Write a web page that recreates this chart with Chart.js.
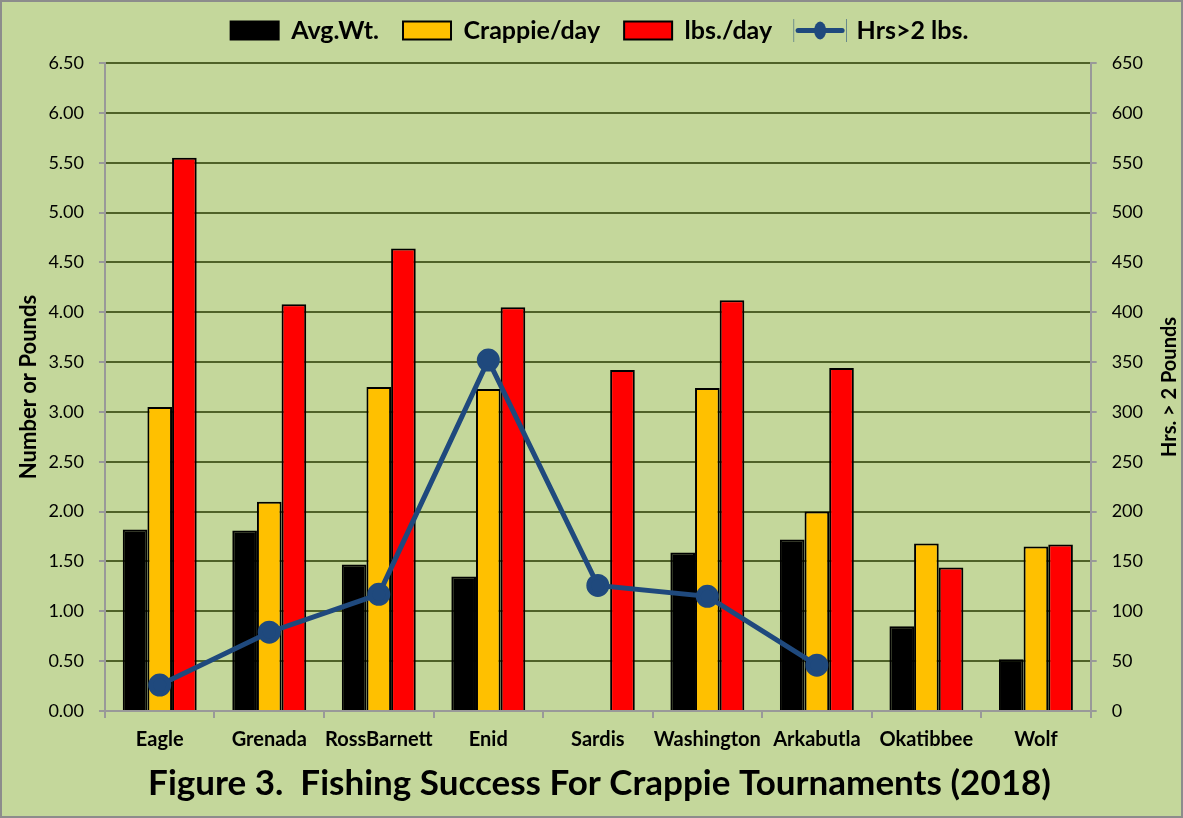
<!DOCTYPE html>
<html><head><meta charset="utf-8">
<script src="https://cdn.jsdelivr.net/npm/chart.js@4/dist/chart.umd.min.js"></script>
<style>html,body{margin:0;padding:0;background:#c4d79b;}#wrap{width:1183px;height:818px;position:relative;}</style>
</head><body><div id="wrap"><canvas id="c" width="1183" height="818"></canvas></div>
<script>
const categories = ["Eagle","Grenada","RossBarnett","Enid","Sardis","Washington","Arkabutla","Okatibbee","Wolf"];
const avgWt = [1.82,1.81,1.47,1.35,null,1.59,1.72,0.85,0.52];
const crappiePerDay = [3.05,2.10,3.25,3.23,null,3.24,2.00,1.68,1.65];
const lbsPerDay = [5.55,4.08,4.64,4.05,3.42,4.12,3.44,1.44,1.67];
const hrsOver2 = [26,79,117,352,126,115,46,null,null];
const leftTicks = [0,0.5,1,1.5,2,2.5,3,3.5,4,4.5,5,5.5,6,6.5];
const rightTicks = [0,50,100,150,200,250,300,350,400,450,500,550,600,650];

const FONT = "Lato,'Liberation Sans',sans-serif";
const BG = '#c4d79b';
const NAVY = '#1f497d';

const bgPlugin = {
  id:'bg',
  afterInit(chart){
    const lg=chart.legend;
    if(lg){ const orig=lg.fit; lg.fit=function(){orig.call(this); this.height+=10;}; }
  },
  beforeDraw(chart){
    const c=chart.ctx; c.save();
    c.fillStyle=BG; c.fillRect(0,0,chart.width,chart.height);
    c.strokeStyle='#8c8c8c'; c.lineWidth=2; c.strokeRect(1,1,chart.width-2,chart.height-2);
    c.restore();
  },
  afterDraw(chart){
    const c=chart.ctx;
    const lg=chart.legend;
    if(lg && lg.legendHitBoxes){
      const idx=lg.legendItems.findIndex(it=>it.datasetIndex===3);
      const hb=lg.legendHitBoxes[idx];
      const bw=lg.options.labels.boxWidth;
      const cy=hb.top+hb.height/2;
      c.save();
      c.fillStyle=BG; c.fillRect(hb.left-2,cy-12,bw+4,24);
      c.strokeStyle=NAVY; c.lineWidth=5; c.lineCap='round';
      c.beginPath(); c.moveTo(hb.left+2,cy); c.lineTo(hb.left+bw-2,cy); c.stroke();
      c.fillStyle=NAVY; c.beginPath(); c.ellipse(hb.left+bw/2,cy,6,9,0,0,Math.PI*2); c.fill();
      c.restore();
    }
    const s=chart.scales.y2;
    c.save();
    c.translate(chart.width-13,(s.top+s.bottom)/2);
    c.rotate(-Math.PI/2);
    c.font="bold 20px "+FONT; c.fillStyle='#000'; c.textAlign='center'; c.textBaseline='middle';
    c.fillText('Hrs. > 2 Pounds',0,0);
    c.restore();
  }
};

new Chart(document.getElementById('c'),{
  data:{
    labels:categories,
    datasets:[
      {type:'bar',label:'Avg.Wt.',data:avgWt,backgroundColor:'#000000',borderColor:'#000000',borderWidth:2,yAxisID:'y',order:2,categoryPercentage:0.675,barPercentage:1},
      {type:'bar',label:'Crappie/day',data:crappiePerDay,backgroundColor:'#ffc000',borderColor:'#000000',borderWidth:2,yAxisID:'y',order:2,categoryPercentage:0.675,barPercentage:1},
      {type:'bar',label:'lbs./day',data:lbsPerDay,backgroundColor:'#ff0000',borderColor:'#000000',borderWidth:2,yAxisID:'y',order:2,categoryPercentage:0.675,barPercentage:1},
      {type:'line',label:'Hrs>2 lbs.',data:hrsOver2,borderColor:NAVY,backgroundColor:NAVY,borderWidth:5,pointRadius:9,pointHoverRadius:9,pointBackgroundColor:NAVY,pointBorderColor:NAVY,yAxisID:'y2',order:0,spanGaps:false,tension:0}
    ]
  },
  options:{
    responsive:false,animation:false,
    layout:{padding:{left:16,right:0,top:-6,bottom:3}},
    plugins:{
      legend:{position:'top',labels:{sort:(a,b)=>a.datasetIndex-b.datasetIndex,boxWidth:48,boxHeight:18,font:{family:FONT,size:25,weight:'bold'},color:'#000',padding:24}},
      title:{display:true,position:'bottom',text:'Figure 3.  Fishing Success For Crappie Tournaments (2018)',font:{family:FONT,size:35,weight:'bold'},color:'#000',padding:{top:1,bottom:10}},
      tooltip:{enabled:false}
    },
    scales:{
      x:{
        grid:{display:true,drawOnChartArea:false,offset:true,tickLength:7,color:'#999999',lineWidth:2},
        border:{color:'#999999',width:2},
        ticks:{autoSkip:false,font:{family:FONT,size:20,weight:'bold'},color:'#000',padding:10,maxRotation:0}
      },
      y:{
        position:'left',min:0,max:6.5,
        afterBuildTicks(s){s.ticks=leftTicks.map(v=>({value:v}));},
        ticks:{callback:v=>Number(v).toFixed(2),font:{family:FONT,size:18},color:'#000',padding:15},
        grid:{color:'#4f6228',lineWidth:2,tickLength:6,tickColor:'#999999'},
        border:{color:'#999999',width:2},
        title:{display:true,text:'Number or Pounds',font:{family:FONT,size:22,weight:'bold'},color:'#000',padding:{top:0,bottom:-9}}
      },
      y2:{
        position:'right',min:0,max:650,
        afterBuildTicks(s){s.ticks=rightTicks.map(v=>({value:v}));},
        ticks:{font:{family:FONT,size:18},color:'#000',padding:15},
        grid:{drawOnChartArea:false,tickLength:6,color:'#999999',lineWidth:2},
        border:{color:'#999999',width:2},
        title:{display:true,text:'Hrs. > 2 Pounds',color:'rgba(0,0,0,0)',font:{family:FONT,size:20,weight:'bold'},padding:{top:0,bottom:1}}
      }
    }
  },
  plugins:[bgPlugin]
});
</script></body></html>
